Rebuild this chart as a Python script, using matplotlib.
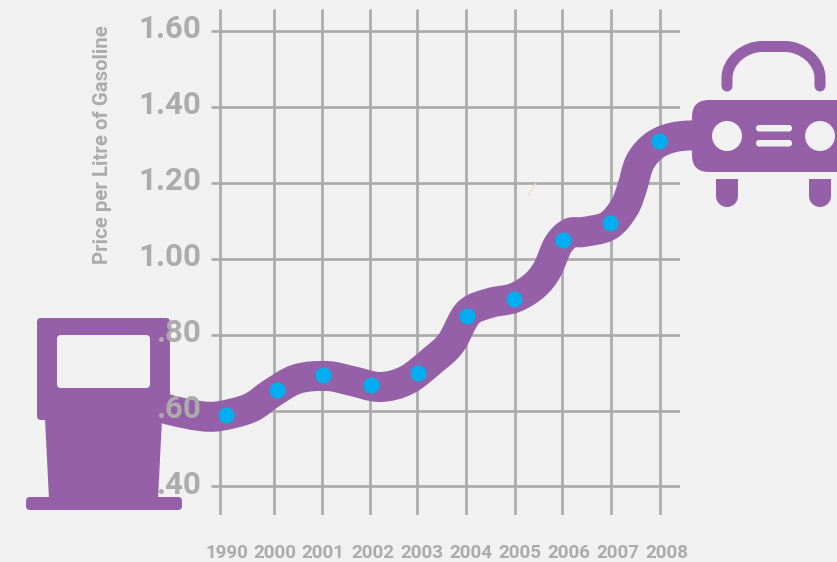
import numpy as np
import matplotlib
matplotlib.use("Agg")
import matplotlib.pyplot as plt
from matplotlib.path import Path
from matplotlib.patches import PathPatch, FancyBboxPatch, Polygon, Circle, Rectangle
from matplotlib.transforms import Affine2D

years = ["1990", "2000", "2001", "2002", "2003", "2004", "2005", "2006", "2007", "2008"]
prices = [0.588, 0.654, 0.694, 0.667, 0.700, 0.850, 0.895, 1.050, 1.095, 1.310]
y_ticks = [0.40, 0.60, 0.80, 1.00, 1.20, 1.40, 1.60]
y_labels = [".40", ".60", ".80", "1.00", "1.20", "1.40", "1.60"]
y_title = "Price per Litre of Gasoline"

# layout, in picture pixels
grid_x = [220, 274, 322, 370, 417, 466, 515, 562, 611, 660]
dot_x = [226, 277, 323, 371, 418, 467, 514, 563, 610, 659]
label_x = [226.5, 275, 323, 373, 422, 471, 520, 569, 618, 667]
road = [(150, 403), (170, 410), (200, 416), (220, 416), (250, 408), (272, 393), (297, 379), (327, 376),
        (352, 381), (380, 387), (407, 380), (433, 360), (451, 343), (468, 313), (490, 303),
        (514, 298), (534, 286), (547, 270), (558, 245), (570, 233), (583, 232), (608, 226), (624, 208),
        (632, 188), (640, 162), (655, 145), (675, 137), (700, 135)]

PURPLE, BG, GRID, DOT = "#9560A8", "#F1F1F1", "#ABABAB", "#00AEEF"
W, H = 837, 562

fig = plt.figure(figsize=((W + 0.01) / 100, (H + 0.01) / 100), dpi=100, facecolor=BG)
L, R, T, B = 211, 680, 9, 515
ax = fig.add_axes([L / W, 1 - B / H, (R - L) / W, (B - T) / H])
ax.set_facecolor("none")
ax.patch.set_visible(False)
for s in ax.spines.values():
    s.set_visible(False)
ax.set_xlim(L, R)
ax.set_ylim(0.40 - (B - 486.5) / 379.5, 0.40 + (486.5 - T) / 379.5)
ax.set_axisbelow(False)

px = Affine2D().scale(1, -1).translate(0, H)  # picture pixels -> display
LW = 0.72

ax.hlines(y_ticks, L, R, color=GRID, lw=2.7 * LW, zorder=1)
ax.vlines(grid_x, *ax.get_ylim(), color=GRID, lw=2.7 * LW, zorder=1)

font = "Roboto"
ax.set_yticks(y_ticks, y_labels, fontsize=22.5, fontweight="bold", color=GRID, family=font)
ax.set_xticks(label_x, years, fontsize=13.5, fontweight="bold", color=GRID, family=font)
ax.tick_params(axis="y", length=0, pad=7)
ax.tick_params(axis="x", length=0, pad=21)
for lab in ax.get_yticklabels():
    lab.set_transform(lab.get_transform() + Affine2D().translate(0, 5))
ax.text(103, 145, y_title, transform=px, rotation=90, ha="center", va="center",
        fontsize=14.7, fontweight="bold", color=GRID, family=font, clip_on=False)


def add(p):
    p.set_transform(px)
    p.set_clip_on(False)
    ax.add_patch(p)
    return p


def rrect(x0, y0, x1, y1, r, color, z=2):
    return add(FancyBboxPatch((x0 + r, y0 + r), x1 - x0 - 2 * r, y1 - y0 - 2 * r,
                              boxstyle=f"round,pad={r},rounding_size={r}", fc=color, ec="none", zorder=z))


def catmull(pts):
    pts = np.array(pts, float)
    verts = [pts[0]]
    codes = [Path.MOVETO]
    for i in range(len(pts) - 1):
        p0 = pts[max(i - 1, 0)]
        p1, p2 = pts[i], pts[i + 1]
        p3 = pts[min(i + 2, len(pts) - 1)]
        verts += [p1 + (p2 - p0) / 6, p2 - (p3 - p1) / 6, p2]
        codes += [Path.CURVE4] * 3
    return Path(verts, codes)


# ribbon
add(PathPatch(catmull(road), fc="none", ec=PURPLE, lw=30 * LW, capstyle="butt", joinstyle="round", zorder=2))

# fuel pump
rrect(37, 318, 170, 420, 4, PURPLE, 2.1)
rrect(57, 335, 150, 388, 4, BG, 2.2)
add(Polygon([(45, 419), (162, 419), (158, 499), (49, 499)], fc=PURPLE, ec="none", zorder=2.1))
rrect(26, 497, 182, 510, 4, PURPLE, 2.1)

# car
rrect(692, 100, 880, 172, 17, PURPLE, 2.1)
for cx in (727, 820):
    add(Circle((cx, 136), 15, fc=BG, ec="none", zorder=2.2))
rrect(756, 125, 792, 131.5, 3, BG, 2.2)
rrect(756, 140, 792, 146.5, 3, BG, 2.2)
roof = Path([(727, 86), (727, 78), (727, 60.7), (744.7, 46.5), (762, 46.5), (785, 46.5),
             (802.3, 46.5), (820, 60.7), (820, 78), (820, 86)],
            [Path.MOVETO, Path.LINETO, Path.CURVE4, Path.CURVE4, Path.CURVE4, Path.LINETO,
             Path.CURVE4, Path.CURVE4, Path.CURVE4, Path.LINETO])
add(PathPatch(roof, fc="none", ec=PURPLE, lw=11 * LW, capstyle="round", zorder=2.1))
for x0 in (716, 809):
    add(Rectangle((x0, 179), 22, 17, fc=PURPLE, ec="none", zorder=2.1))
    add(Circle((x0 + 11, 196), 11, fc=PURPLE, ec="none", zorder=2.1))

# stray mark
add(PathPatch(Path([(528, 196), (536, 183)]), fc="none", ec="#F2DFC8", lw=1, zorder=1.5))

# price dots
ax.scatter(dot_x, prices, s=135, color=DOT, linewidths=0, zorder=3, clip_on=False)

fig.savefig("out.png", dpi=100, facecolor=BG)
